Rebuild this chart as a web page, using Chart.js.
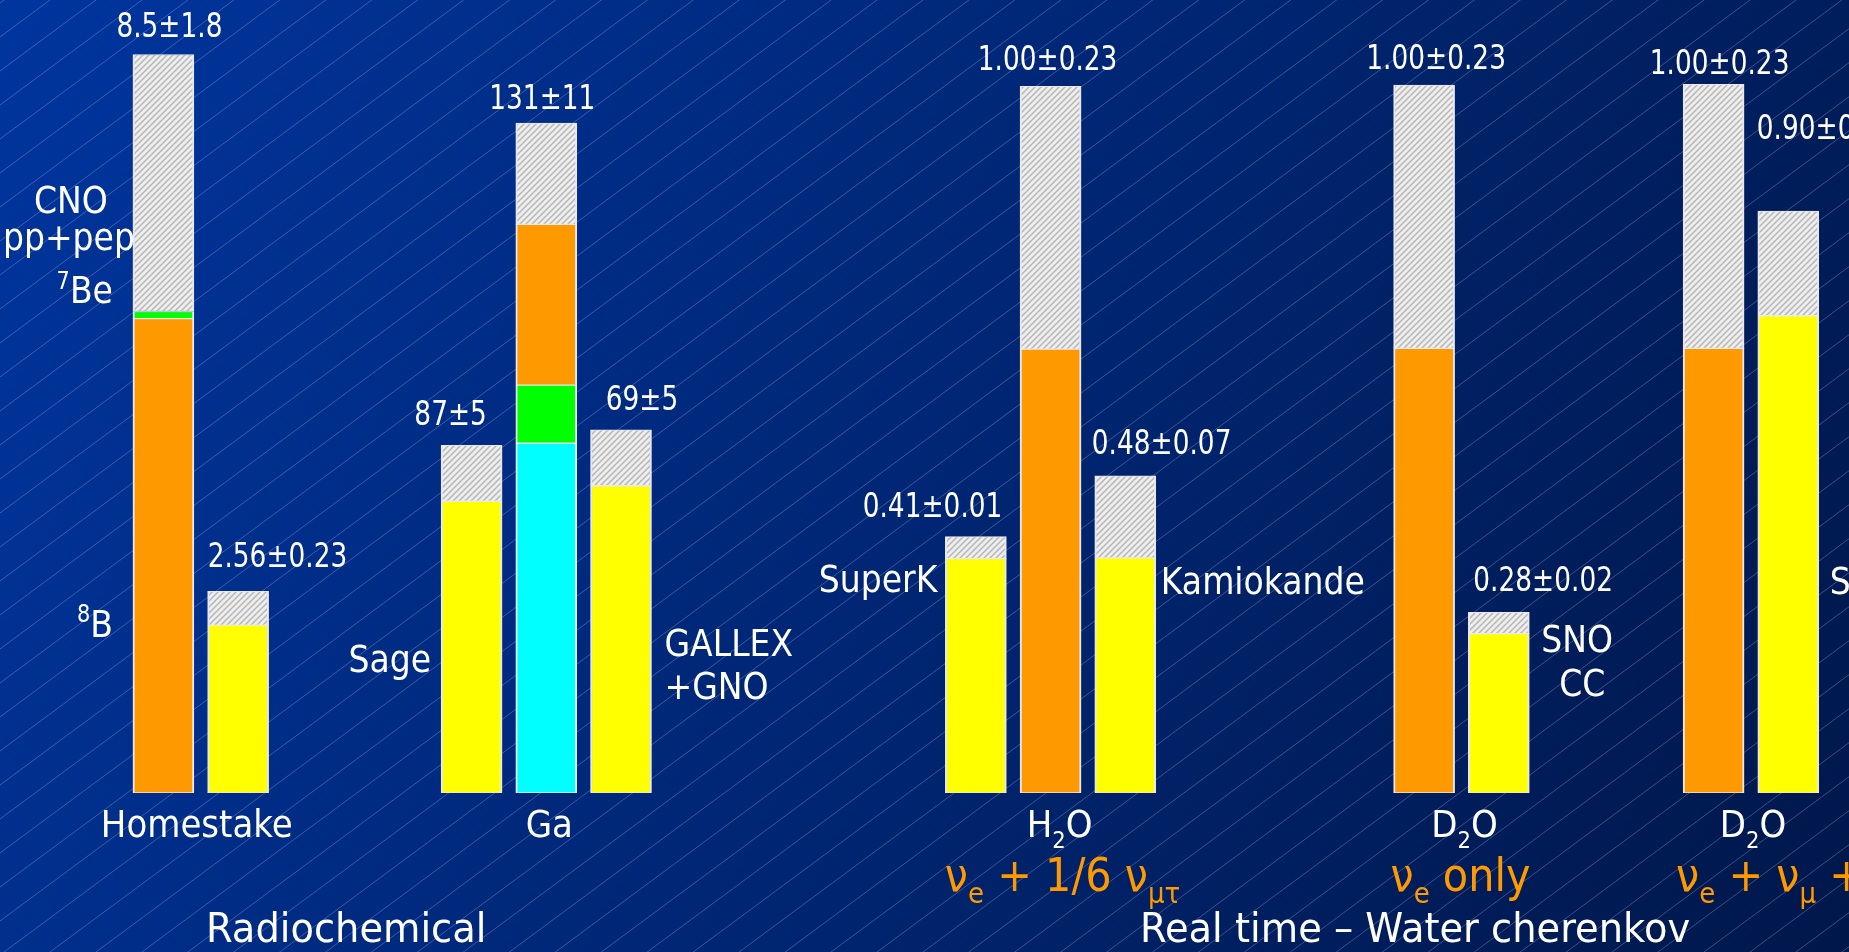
<!DOCTYPE html>
<html lang="en">
<head>
<meta charset="utf-8">
<title>Solar neutrino experiments</title>
<script src="https://cdn.jsdelivr.net/npm/chart.js@4.4.1/dist/chart.umd.min.js"></script>
<style>
    html, body { margin: 0; padding: 0; overflow: hidden; background: #00225f; }
    canvas { display: block; }
</style>
</head>
<body>
<canvas id="grafico" width="1849" height="952"></canvas>
<script>
// Bars, left to right
var experimentos = ['Homestake SSM', 'Homestake', 'Sage', 'Ga SSM', 'GALLEX+GNO', 'SuperK',
                    'H2O SSM', 'Kamiokande', 'D2O SSM', 'SNO CC', 'D2O SSM', 'SNO NC'];

// Segment heights, in units of the water cherenkov SSM bar (= 1)
var alturaLaranjaBase = [0.670, null,  null,  null,  null,  null,  null,  null,  null,  null,  null,  null];
var alturaCiano       = [null,  null,  null,  0.494, null,  null,  null,  null,  null,  null,  null,  null];
var alturaVerde       = [0.010, null,  null,  0.082, null,  null,  null,  null,  null,  null,  null,  null];
var alturaLaranja     = [null,  null,  null,  0.227, null,  null,  0.627, null,  0.628, null,  0.628, null];
var alturaMedida      = [null,  0.237, 0.412, null,  0.434, 0.331, null,  0.332, null,  0.225, null,  0.674];
var alturaIncerteza   = [0.363, 0.048, 0.079, 0.143, 0.079, 0.031, 0.371, 0.116, 0.372, 0.030, 0.373, 0.148];

// Printed numbers above the bars
var rotulosValor = ['8.5±1.8', '2.56±0.23', '87±5', '131±11', '69±5', '0.41±0.01',
                    '1.00±0.23', '0.48±0.07', '1.00±0.23', '0.28±0.02', '1.00±0.23', '0.90±0.10'];

// Other texts (_x = subscript, ^x = superscript)
var rotulosFonte    = ['CNO', 'pp+pep', '^7Be', '^8B'];
var rotulosDetector = ['Sage', 'GALLEX', '+GNO', 'SuperK', 'Kamiokande', 'SNO', 'CC', 'SNO', 'NC'];
var rotulosAlvo     = ['Homestake', 'Ga', 'H_2O', 'D_2O', 'D_2O'];
var rotulosSabor    = ['ν_e + 1/6 ν_{μτ}', 'ν_e only', 'ν_e + ν_μ + ν_τ'];
var rotulosTecnica  = ['Radiochemical', 'Real time – Water cherenkov'];

// ---- layout (not data) ----
var nSlots = 198;
var slotsBarras = [17, 25, 50, 58, 66, 104, 112, 120, 152, 160, 183, 191];

var estilos = {
    valor:   { tam: 33, sx: 0.80, cor: '#ffffff' },
    nome:    { tam: 38, sx: 0.87, cor: '#ffffff' },
    alvo:    { tam: 37, sx: 0.92, cor: '#ffffff' },
    sabor:   { tam: 46, sx: 0.90, cor: '#ff9900' },
    tecnica: { tam: 40, sx: 0.96, cor: '#ffffff' }
};
var familia = '"DejaVu Sans", "Noto Sans", sans-serif';

// [anchor, dx, dy from bar top, align]
var posValor = [
    ['c', 6, -29, 'center'], ['l', 0, -36, 'left'], ['c', -21, -32, 'center'], ['c', -4, -26, 'center'],
    ['c', 21, -32, 'center'], ['r', -4, -32, 'right'], ['c', -3, -28, 'center'], ['l', -3, -34, 'left'],
    ['c', 12, -28, 'center'], ['l', 5, -33, 'left'], ['c', 6, -22, 'center'], ['l', -1, -84, 'left']
];

var textos = [];
rotulosValor.forEach(function(t, i) {
    var p = posValor[i];
    textos.push({ txt: t, barras: [i], ancora: p[0], dx: p[1], ref: 'topo', dy: p[2], alinha: p[3], estilo: 'valor' });
});
textos.push(
    { txt: rotulosFonte[0], barras: [0], ancora: 'l', dx: -62, ref: 'topo', dy: 145, alinha: 'center', estilo: 'nome' },
    { txt: rotulosFonte[1], barras: [0], ancora: 'l', dx: -64, ref: 'topo', dy: 182, alinha: 'center', estilo: 'nome' },
    { txt: rotulosFonte[2], barras: [0], ancora: 'l', dx: -20, ref: 'topo', dy: 235, alinha: 'right', estilo: 'nome' },
    { txt: rotulosFonte[3], barras: [0], ancora: 'l', dx: -20, ref: 'base', dy: -170, alinha: 'right', estilo: 'nome' },

    { txt: rotulosDetector[0], barras: [2], ancora: 'l', dx: -10, ref: 'base', dy: -135, alinha: 'right', estilo: 'nome' },
    { txt: rotulosDetector[1], barras: [4], ancora: 'r', dx: 13, ref: 'base', dy: -151, alinha: 'left', estilo: 'nome' },
    { txt: rotulosDetector[2], barras: [4], ancora: 'r', dx: 13, ref: 'base', dy: -108, alinha: 'left', estilo: 'nome' },
    { txt: rotulosDetector[3], barras: [5], ancora: 'l', dx: -8, ref: 'base', dy: -215, alinha: 'right', estilo: 'nome' },
    { txt: rotulosDetector[4], barras: [7], ancora: 'r', dx: 5, ref: 'base', dy: -213, alinha: 'left', estilo: 'nome' },
    { txt: rotulosDetector[5], barras: [9], ancora: 'r', dx: 12, ref: 'base', dy: -155, alinha: 'left', estilo: 'nome' },
    { txt: rotulosDetector[6], barras: [9], ancora: 'r', dx: 53, ref: 'base', dy: -111, alinha: 'center', estilo: 'nome' },
    { txt: rotulosDetector[7], barras: [11], ancora: 'r', dx: 11, ref: 'base', dy: -213, alinha: 'left', estilo: 'nome' },
    { txt: rotulosDetector[8], barras: [11], ancora: 'r', dx: 52, ref: 'base', dy: -169, alinha: 'center', estilo: 'nome' },

    { txt: rotulosAlvo[0], barras: [0, 1], ancora: 'c', dx: -4, ref: 'base', dy: 31, alinha: 'center', estilo: 'alvo' },
    { txt: rotulosAlvo[1], barras: [3], ancora: 'c', dx: 3, ref: 'base', dy: 31, alinha: 'center', estilo: 'alvo' },
    { txt: rotulosAlvo[2], barras: [6], ancora: 'c', dx: 9, ref: 'base', dy: 31, alinha: 'center', estilo: 'alvo' },
    { txt: rotulosAlvo[3], barras: [8, 9], ancora: 'c', dx: 3, ref: 'base', dy: 31, alinha: 'center', estilo: 'alvo' },
    { txt: rotulosAlvo[4], barras: [10, 11], ancora: 'c', dx: 2, ref: 'base', dy: 31, alinha: 'center', estilo: 'alvo' },

    { txt: rotulosSabor[0], barras: [6], ancora: 'c', dx: 12, ref: 'base', dy: 81, alinha: 'center', estilo: 'sabor' },
    { txt: rotulosSabor[1], barras: [8, 9], ancora: 'c', dx: -1, ref: 'base', dy: 81, alinha: 'center', estilo: 'sabor' },
    { txt: rotulosSabor[2], barras: [10], ancora: 'l', dx: -7, ref: 'base', dy: 81, alinha: 'left', estilo: 'sabor' },

    { txt: rotulosTecnica[0], barras: [0, 4], ancora: 'c', dx: -46, ref: 'base', dy: 135, alinha: 'center', estilo: 'tecnica' },
    { txt: rotulosTecnica[1], barras: [6, 10], ancora: 'c', dx: 33, ref: 'base', dy: 135, alinha: 'center', estilo: 'tecnica' }
);

// puts one value per bar into its slot on the category axis
function espalha(valores) {
    var arr = new Array(nSlots).fill(null);
    slotsBarras.forEach(function(s, i) { arr[s] = valores[i]; });
    return arr;
}

var rotulosX = new Array(nSlots).fill('');
slotsBarras.forEach(function(s, i) { rotulosX[s] = experimentos[i]; });

var canvas = document.getElementById('grafico');
var ctx = canvas.getContext('2d');

// light grey diagonal hatch for the uncertainty part
function padraoHachurado() {
    var tile = document.createElement('canvas');
    tile.width = 6; tile.height = 6;
    var g = tile.getContext('2d');
    g.fillStyle = '#eeeeee';
    g.fillRect(0, 0, 6, 6);
    g.strokeStyle = '#b6b6b6';
    g.lineWidth = 1.5;
    g.beginPath();
    g.moveTo(-3, 3); g.lineTo(3, -3);
    g.moveTo(0, 6); g.lineTo(6, 0);
    g.moveTo(3, 9); g.lineTo(9, 3);
    g.stroke();
    return ctx.createPattern(tile, 'repeat');
}

function serie(nome, valores, cor) {
    return {
        label: nome,
        data: espalha(valores),
        backgroundColor: cor,
        borderColor: '#e8e8ee',
        borderWidth: { top: 1, bottom: 1, left: 2, right: 2 },
        borderSkipped: false,
        barThickness: 61
    };
}

var datasets = [
    serie('orange (Homestake)', alturaLaranjaBase, '#ff9900'),
    serie('cyan', alturaCiano, '#00ffff'),
    serie('green', alturaVerde, '#00ff00'),
    serie('orange', alturaLaranja, '#ff9900'),
    serie('measured', alturaMedida, '#ffff00'),
    serie('uncertainty', alturaIncerteza, padraoHachurado())
];
var indiceTopo = datasets.length - 1;

// splits 'H_2O' / '^7Be' / 'ν_{μτ}' into normal, sub and super runs
function partesTexto(txt) {
    var partes = [], buf = '', i = 0;
    while (i < txt.length) {
        var c = txt[i];
        if (c === '_' || c === '^') {
            if (buf) { partes.push({ t: buf, m: 0 }); buf = ''; }
            var conteudo;
            if (txt[i + 1] === '{') {
                var f = txt.indexOf('}', i);
                conteudo = txt.slice(i + 2, f);
                i = f + 1;
            } else {
                conteudo = txt[i + 1];
                i += 2;
            }
            partes.push({ t: conteudo, m: c === '_' ? 1 : -1 });
        } else {
            buf += c;
            i++;
        }
    }
    if (buf) partes.push({ t: buf, m: 0 });
    return partes;
}

function desenhaTexto(c, txt, x, yCentro, est, alinha) {
    var partes = partesTexto(txt);
    var tamMenor = Math.round(est.tam * 0.62);
    var largura = 0;
    partes.forEach(function(p) {
        c.font = (p.m ? tamMenor : est.tam) + 'px ' + familia;
        p.w = c.measureText(p.t).width;
        largura += p.w;
    });
    var x0 = x;
    if (alinha === 'center') x0 = x - largura * est.sx / 2;
    if (alinha === 'right') x0 = x - largura * est.sx;
    c.save();
    c.fillStyle = est.cor;
    c.textBaseline = 'alphabetic';
    c.textAlign = 'left';
    c.translate(x0, yCentro + est.tam * 0.36);
    c.scale(est.sx, 1);
    var cx = 0;
    partes.forEach(function(p) {
        c.font = (p.m ? tamMenor : est.tam) + 'px ' + familia;
        var desloc = p.m === 1 ? est.tam * 0.28 : (p.m === -1 ? -est.tam * 0.38 : 0);
        c.fillText(p.t, cx, desloc);
        cx += p.w;
    });
    c.restore();
}

var fundo = {
    id: 'fundo',
    beforeDraw: function(chart) {
        var c = chart.ctx, w = chart.width, h = chart.height;
        c.save();
        var grad = c.createLinearGradient(0, 0, w, h);
        grad.addColorStop(0, '#00359e');
        grad.addColorStop(1, '#00174a');
        c.fillStyle = grad;
        c.fillRect(0, 0, w, h);
        c.strokeStyle = 'rgba(175, 195, 240, 0.32)';
        c.lineWidth = 1;
        c.beginPath();
        for (var k = 3; k < h + 0.74 * w + 34; k += 34) {
            c.moveTo(0, k);
            c.lineTo(w, k - 0.74 * w);
        }
        c.stroke();
        c.restore();
    }
};

var rotulos = {
    id: 'rotulos',
    afterDatasetsDraw: function(chart) {
        var c = chart.ctx;
        var base = chart.scales.y.getPixelForValue(0);
        textos.forEach(function(t) {
            var els = t.barras.map(function(i) { return chart.getDatasetMeta(indiceTopo).data[slotsBarras[i]]; });
            var el = els[0];
            var x;
            if (t.ancora === 'l') x = el.x - el.width / 2;
            else if (t.ancora === 'r') x = el.x + el.width / 2;
            else x = els.reduce(function(s, e) { return s + e.x; }, 0) / els.length;
            var y = t.ref === 'topo' ? el.y : base;
            desenhaTexto(c, t.txt, x + t.dx, y + t.dy, estilos[t.estilo], t.alinha);
        });
    }
};

new Chart(ctx, {
    type: 'bar',
    data: { labels: rotulosX, datasets: datasets },
    options: {
        responsive: false,
        animation: false,
        layout: { padding: { left: 0, right: 0, top: 0, bottom: 159 } },
        plugins: {
            legend: { display: false },
            tooltip: { enabled: false }
        },
        scales: {
            x: { stacked: true, display: false, offset: true },
            y: { stacked: true, display: false, min: 0, max: 1.12 }
        }
    },
    plugins: [fundo, rotulos]
});
</script>
</body>
</html>
